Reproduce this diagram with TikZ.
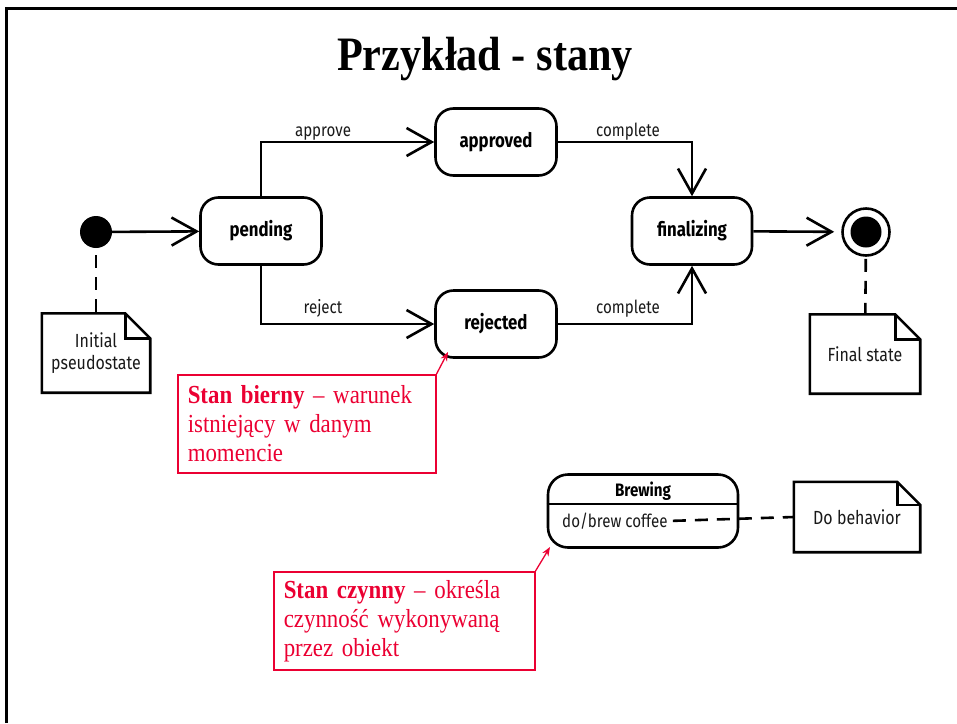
\documentclass[tikz,border=0pt]{standalone}
\usepackage{fontspec}
\setmainfont{Liberation Serif}[FakeStretch=0.88]
\newfontfamily\umlfont{Fira Sans}[FakeStretch=0.84]
\usetikzlibrary{arrows.meta}
\definecolor{notered}{RGB}{235,0,50}

% folded-corner note outline around a named node
\newcommand\foldnote[2]{%
  \draw[umlline, line join=miter] (#1.north west) -- ([xshift=-#2]#1.north east)
    -- ([yshift=-#2]#1.north east) -- (#1.south east) -- (#1.south west) -- cycle;
  \draw[umlline, line join=miter] ([xshift=-#2]#1.north east) |- ([yshift=-#2]#1.north east);}

\begin{document}
\begin{tikzpicture}[x=1pt, y=-1pt,
  umlline/.style={line width=2.6pt},
  lbl/.style={font=\umlfont\fontsize{18}{20}\selectfont, inner sep=0pt, text=black!90},
  statebox/.style={draw, umlline, rounded corners=18pt, minimum width=121pt,
    minimum height=67pt, inner sep=0pt, font=\umlfont\bfseries\fontsize{20}{22}\selectfont},
  trans/.style={umlline, -{Straight Barb[length=25pt, width=28pt]}},
  dashline/.style={umlline, dash pattern=on 13pt off 9pt},
  notebox/.style={minimum width=108pt, minimum height=79pt, inner sep=0pt, align=center,
    font=\umlfont\fontsize{19}{22}\selectfont, text=black!90},
  redbox/.style={draw=notered, line width=1.5pt, text=notered, align=left,
    inner xsep=10pt, inner ysep=0pt, minimum height=98pt, anchor=north west,
    font=\fontsize{26}{29}\selectfont},
  redarrow/.style={draw=notered, line width=1.3pt, -{Stealth[length=9pt, width=7pt]}}
]
\useasboundingbox (0,0) rectangle (957,723);

% slide frame (top and left edges)
\draw[line width=3pt] (6,723) -- (6,8.5) -- (957,8.5);

% title
\node[anchor=base, inner sep=0pt] (title) at (485,70)
  {\fontsize{48}{50}\selectfont\bfseries Przykład - stany};

% states
\node[circle, fill, minimum size=32pt, inner sep=0pt] (init) at (96,232) {};
\node[statebox] (pending) at (261,231) {pending};
\node[statebox] (approved) at (496,142) {approved};
\node[statebox] (rejected) at (496,324) {rejected};
\node[statebox, minimum width=120pt] (final) at (692,231) {finalizing};
\node[circle, draw, umlline, minimum size=47pt, inner sep=0pt] (end) at (866,232) {};
\node[circle, fill, minimum size=31pt, inner sep=0pt] (endin) at (866,232) {};

% transitions
\draw[trans] (init) -- (pending);
\draw[trans] (pending.north) |- (approved.west);
\draw[trans] (pending.south) |- (rejected.west);
\draw[trans] (approved.east) -| (final.north);
\draw[trans] (rejected.east) -| (final.south);
\draw[trans, shorten >=7pt] (final) -- (end);

% transition labels
\node[lbl, anchor=base] (lapprove) at (323,136) {approve};
\node[lbl, anchor=base] (lreject) at (323,313) {reject};
\node[lbl, anchor=base] (lcomp1) at (628,136) {complete};
\node[lbl, anchor=base] (lcomp2) at (628,313) {complete};

% notes on the pseudostates
\node[notebox] (inote) at (96,353) {Initial\\pseudostate};
\foldnote{inote}{25pt}
\draw[dashline, shorten <=7pt] (init) -- (inote);
\node[notebox, minimum width=110pt] (fnote) at (865,354) {Final state};
\foldnote{fnote}{25pt}
\draw[dashline, shorten <=2pt] (end) -- (fnote);

% state with a do activity
\node[draw, umlline, rounded corners=20pt, minimum width=190pt, minimum height=73pt] (brew) at (643,511) {};
\draw[umlline] (brew.west |- 0,504) -- (brew.east |- 0,504);
\node[inner sep=0pt, font=\umlfont\bfseries\fontsize{18}{20}\selectfont] (brewname) at (643,491) {Brewing};
\node[lbl, anchor=west] (doact) at (562,521) {do/brew coffee};
\node[notebox, minimum width=126pt, minimum height=70pt] (dnote) at (857,517) {Do behavior};
\foldnote{dnote}{23pt}
\draw[dashline, shorten <=5pt] (doact.east) -- (dnote.west);

% red callouts
\node[redbox, text width=238pt] (passive) at (177,374)
  {\textbf{Stan bierny} – warunek\\istniejący w danym\\momencie};
\coordinate (passivetip) at (448,352);
\draw[redarrow] (passive.north east) -- (passivetip);

\node[redbox, text width=241pt] (active) at (273,571)
  {\textbf{Stan czynny} – określa\\czynność wykonywaną\\przez obiekt};
\coordinate (activetip) at (550,547);
\draw[redarrow] (active.north east) -- (activetip);
\end{tikzpicture}
\end{document}
